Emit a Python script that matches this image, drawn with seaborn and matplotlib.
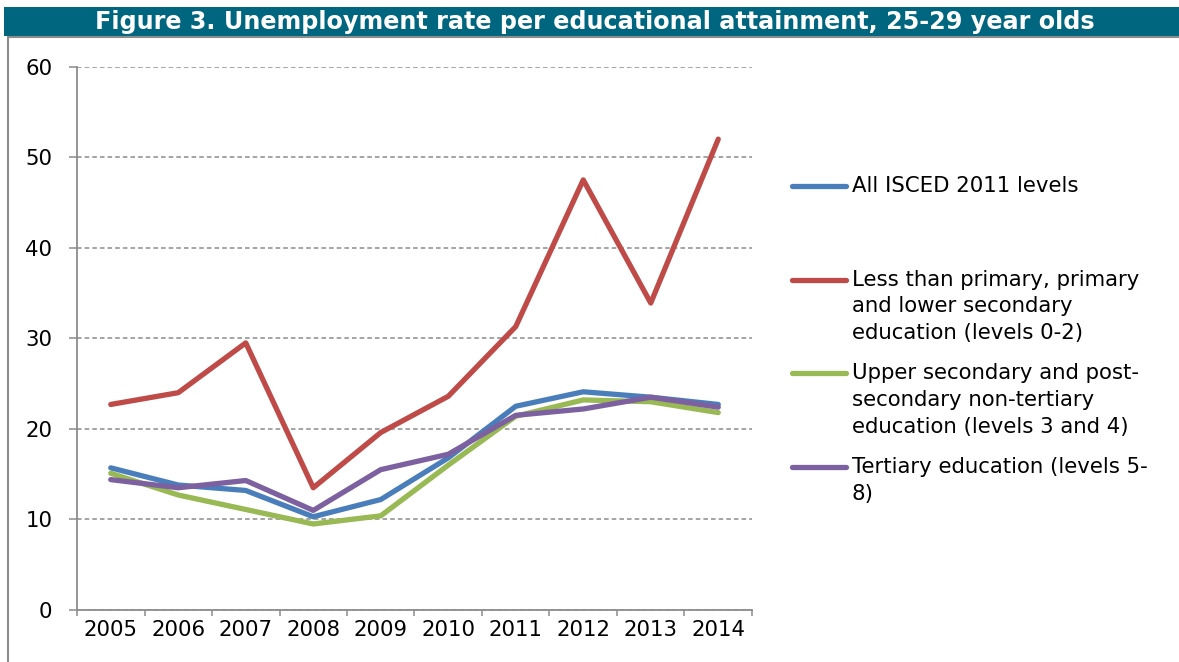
import matplotlib
matplotlib.use("Agg")
import matplotlib.pyplot as plt
from matplotlib.lines import Line2D
from matplotlib.patches import Rectangle
import seaborn as sns
import pandas as pd
import numpy as np

years = ["2005", "2006", "2007", "2008", "2009", "2010", "2011", "2012", "2013", "2014"]
all_levels = [15.7, 13.8, 13.2, 10.3, 12.2, 16.8, 22.5, 24.1, 23.5, 22.7]
levels_0_2 = [22.7, 24.0, 29.5, 13.5, 19.6, 23.6, 31.3, 47.5, 33.9, 52.0]
levels_3_4 = [15.1, 12.7, 11.1, 9.5, 10.4, 16.0, 21.4, 23.2, 23.0, 21.8]
levels_5_8 = [14.4, 13.5, 14.3, 11.0, 15.5, 17.2, 21.5, 22.2, 23.5, 22.4]

series_names = [
    "All ISCED 2011 levels",
    "Less than primary, primary\nand lower secondary\neducation (levels 0-2)",
    "Upper secondary and post-\nsecondary non-tertiary\neducation (levels 3 and 4)",
    "Tertiary education (levels 5-\n8)",
]
series_values = [all_levels, levels_0_2, levels_3_4, levels_5_8]
colors = ["#4A7EBB", "#BE4B48", "#98B954", "#7D60A0"]
title = "Figure 3. Unemployment rate per educational attainment, 25-29 year olds"

rows = []
for name, vals in zip(series_names, series_values):
    for i, (yr, v) in enumerate(zip(years, vals)):
        rows.append({"pos": i, "year": yr, "value": v, "series": name})
df = pd.DataFrame(rows)

sns.set_theme(style="white")
plt.rcParams["font.family"] = ["DejaVu Sans"]
plt.rcParams["text.color"] = "black"

DPI = 100
fig = plt.figure(figsize=(11.79, 6.62), dpi=DPI)
ax = fig.add_axes([77 / 1179, 52 / 662, 675 / 1179, 543.3 / 662])

LW = 3.8
sns.lineplot(data=df, x="pos", y="value", hue="series", hue_order=series_names,
             palette=colors, linewidth=LW, ax=ax, legend=False, sort=False)
for ln in ax.get_lines():
    ln.set_solid_capstyle("round")
    ln.set_solid_joinstyle("round")

ax.set_xlim(-0.5, len(years) - 0.5)
ax.set_ylim(0, 60)
ax.set_xlabel("")
ax.set_ylabel("")

grey = "#8C8C8C"
FS = 15.3
ax.set_yticks(np.arange(0, 61, 10))
ax.set_yticklabels([str(v) for v in range(0, 61, 10)], fontsize=FS, color="#000000")
ax.yaxis.grid(True, linestyle=(0, (3, 2)), color=grey, linewidth=1.1)
ax.xaxis.grid(False)
ax.set_axisbelow(True)

ax.set_xticks(np.arange(-0.5, len(years), 1.0))
ax.set_xticklabels([])
ax.set_xticks(np.arange(len(years)), minor=True)
ax.set_xticklabels(years, minor=True, fontsize=FS, color="#000000")
ax.tick_params(axis="x", which="major", direction="out", length=4.3, width=1.1, color=grey, bottom=True)
ax.tick_params(axis="x", which="minor", length=0, pad=7)
ax.tick_params(axis="y", which="major", direction="out", length=5.8, width=1.1, color=grey, left=True, pad=12)

for side in ["top", "right"]:
    ax.spines[side].set_visible(False)
for side in ["left", "bottom"]:
    ax.spines[side].set_color(grey)
    ax.spines[side].set_linewidth(1.3)

# Legend
handles = [Line2D([0], [0], color=c, linewidth=LW, solid_capstyle="round") for c in colors]
labels = [
    series_names[0] + "\n\n",
    series_names[1],
    series_names[2],
    series_names[3] + "\n",
]
leg = fig.legend(handles, labels, loc="upper left", bbox_to_anchor=(792 / 1179, 1 - 176 / 662),
                 frameon=False, fontsize=FS, handlelength=2.55, handletextpad=0.25,
                 labelspacing=0.95, borderaxespad=0, borderpad=0)
for t in leg.get_texts():
    t.set_linespacing(1.42)
    t.set_color("black")
fig.canvas.draw()
renderer = fig.canvas.get_renderer()
for h, t, lab in zip(leg.legend_handles, leg.get_texts(), labels):
    bb = t.get_window_extent(renderer)
    nlines = lab.count("\n") + 1
    target = bb.y1 - bb.height / (2 * nlines) + 2
    ydat = h.get_ydata()
    cur = h.get_transform().transform((0, ydat[0]))[1]
    delta = (target - cur) * 72.0 / DPI
    h.set_ydata([v + delta for v in ydat])

# Title bar
fig.add_artist(Rectangle((4 / 1179, 1 - 35.5 / 662), 1 - 4 / 1179, 28.5 / 662,
                         transform=fig.transFigure, facecolor="#006680", edgecolor="none"))
fig.text(595 / 1179, 1 - 21.5 / 662, title, color="white", fontsize=17.2, fontweight="bold",
         ha="center", va="center")
fig.add_artist(Line2D([8 / 1179, 1], [1 - 36.5 / 662, 1 - 36.5 / 662], transform=fig.transFigure,
                      color=grey, linewidth=1.5))
fig.add_artist(Line2D([8 / 1179, 8 / 1179], [0, 1 - 36.5 / 662], transform=fig.transFigure,
                      color=grey, linewidth=1.5))

fig.savefig("out.png", dpi=DPI)
